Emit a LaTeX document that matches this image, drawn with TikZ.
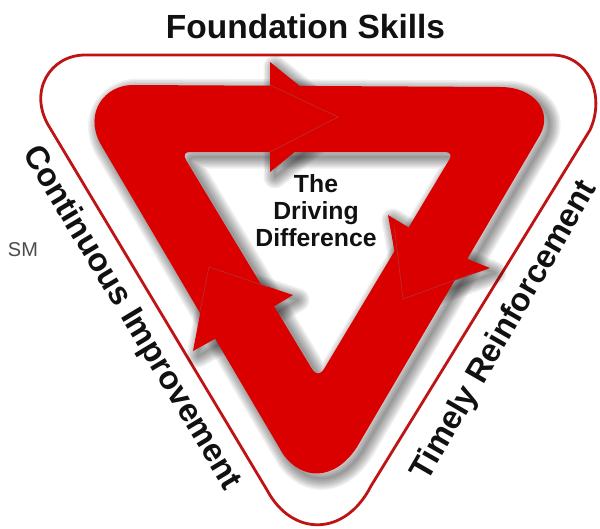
\documentclass[tikz,border=0pt]{standalone}
\usepackage{fontspec}
\setmainfont{Liberation Sans}
\definecolor{bandred}{HTML}{DB0000}
\definecolor{rimred}{HTML}{BE1414}
\definecolor{seam}{HTML}{B03A3A}
\definecolor{ink}{HTML}{111111}
\def\bandshape{(133,85) -- (500,87) .. controls (535,87) and (553,112) .. (540,135) -- (357,447) .. controls (335,481) and (302,481) .. (283,454) -- (100,143) .. controls (84,112) and (105,85) .. (133,85) -- cycle
 (190,152) -- (445,152) .. controls (451,152) and (452,156) .. (449,160) -- (324,369) .. controls (320,375) and (316,375) .. (312,369) -- (186,160) .. controls (183,155) and (185,152) .. (190,152) -- cycle}
\def\headtop{(270,62) -- (338,117) -- (270,172) -- cycle}
\def\headright{(388,215) -- (408,227) -- (470,260) -- (490,268) -- (403,299) -- cycle}
\def\headleft{(209,267) -- (293,295) -- (273,307) -- (213,340) -- (193,351) -- cycle}
\tikzset{
  heading/.style={font=\bfseries\fontsize{33.5}{36}\selectfont,text=ink,inner sep=0pt},
  sidetext/.style={font=\bfseries\fontsize{32.6}{34}\selectfont,text=ink,inner sep=0pt},
  centretext/.style={font=\bfseries\fontsize{24.8}{27}\selectfont,text=ink,align=center,inner sep=0pt},
  marktext/.style={font=\fontsize{20}{22}\selectfont,text=black!70,inner sep=0pt},
  bandfill/.style={fill=bandred,even odd rule},
  seamline/.style={draw=seam,line width=0.5pt},
  softshade/.style={draw=black,opacity=0.06,line join=round},
  rim/.style={draw=rimred,line width=2.8pt,line join=round}
}
\begin{document}
\begin{tikzpicture}[x=1pt,y=-1pt]
\useasboundingbox (0,0) rectangle (600,528);
\fill[white] (0,0) rectangle (600,528);
% outer rim
\draw[rim] (85,55) -- (552,55) .. controls (588,55) and (606,95) .. (590,130) -- (371,486) .. controls (345,537) and (292,537) .. (267,490) -- (50,128) .. controls (27,92) and (50,55) .. (85,55) -- cycle;
% soft shadow
\foreach \w in {2,5,...,23}{
  \begin{scope}[shift={(5,5)}]
    \path[softshade,line width=\w pt] \bandshape;
    \path[softshade,line width=\w pt] \headtop;
    \path[softshade,line width=\w pt] \headright;
    \path[softshade,line width=\w pt] \headleft;
  \end{scope}
}
% band and arrow heads
\fill[bandfill] \bandshape;
\fill[bandred] \headtop;
\fill[bandred] \headright;
\fill[bandred] \headleft;
% seams where the heads lie over the band
\draw[seamline] (270,85) -- (338,117) -- (270,152);
\draw[seamline] (394,225) -- (403,299) -- (474,273);
\draw[seamline] (200,311) -- (209,267) -- (268,287);
% texts
\node[heading] (title) at (305.5,27) {Foundation Skills};
\node[sidetext,rotate=-59] (left) at (131,318) {Continuous Improvement};
\node[sidetext,rotate=60] (right) at (505,331) {Timely Reinforcement};
\node[centretext] (centre) at (316,211) {The\\Driving\\Difference};
\node[marktext] (mark) at (23,250) {SM};
\end{tikzpicture}
\end{document}
